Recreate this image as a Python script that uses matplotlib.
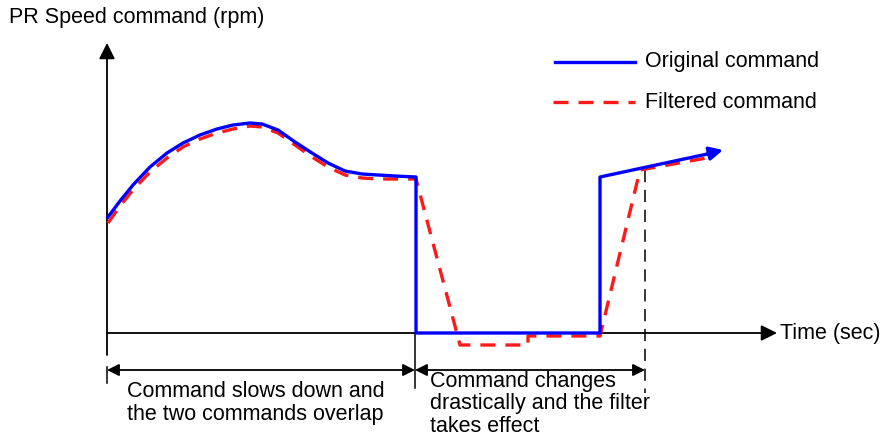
import matplotlib
matplotlib.use("Agg")
import matplotlib.pyplot as plt

plt.rcParams['font.family'] = ['Liberation Sans', 'DejaVu Sans']

# diagram units: time from the origin to the right, speed up from the time axis
orig_t = [1, 13, 26, 43, 60, 76, 93, 110, 126, 143, 155, 171, 188, 205, 221, 238, 255, 271, 288, 309,
          309, 493, 493, 605]
orig_v = [116, 132, 148, 166, 180, 190, 198, 204, 208, 210, 209, 203, 191, 180, 170, 162, 159, 158, 157, 156,
          0, 0, 156, 180]
orig_tip = (616, 183)

filt_t = [1, 13, 26, 43, 60, 76, 93, 110, 126, 143, 155, 171, 188, 205, 221, 238, 255, 271, 288, 309,
          353, 421, 421, 493, 533, 605]
filt_v = [110, 127, 143, 161, 175, 186, 194, 200, 204, 207, 206, 200, 188, 176, 166, 158, 155, 154, 154, 154,
          -12, -12, -3, -3, 163, 176]

t_end_slow = 308
t_end_filter = 538
y_axis_top = 290
x_axis_end = 670

label_y = 'PR Speed command (rpm)'
label_x = 'Time (sec)'
legend_labels = ['Original command', 'Filtered command']
span_labels = ['Command slows down and\nthe two commands overlap',
               'Command changes\ndrastically and the filter\ntakes effect']

blue = '#0000ff'
red = '#ff1a1a'
fs = 15.5

fig = plt.figure(figsize=(8.84, 4.37), dpi=100)
ax = fig.add_axes([0, 0, 1, 1])
ax.set_xlim(-107, 777)
ax.set_ylim(-104, 333)
ax.axis('off')

# axes arrows
ax.annotate('', xy=(0, y_axis_top), xytext=(0, -22),
            arrowprops=dict(arrowstyle='-|>', color='black', lw=1.3, mutation_scale=24, shrinkA=0, shrinkB=0))
ax.annotate('', xy=(x_axis_end, 0), xytext=(0, 0),
            arrowprops=dict(arrowstyle='-|>', color='black', lw=1.3, mutation_scale=24, shrinkA=0, shrinkB=0))
ax.text(-98, 316, label_y, fontsize=fs, ha='left', va='center')
ax.text(x_axis_end + 3, 0, label_x, fontsize=fs, ha='left', va='center')

# curves
ax.plot(filt_t, filt_v, color=red, lw=2.4, ls=(0, (4.5, 3)), zorder=3)
ax.plot(orig_t, orig_v, color=blue, lw=2.4, zorder=4, solid_joinstyle='round')
ax.annotate('', xy=orig_tip, xytext=(orig_t[-1] - 5, orig_v[-1] - 1),
            arrowprops=dict(arrowstyle='-|>', color=blue, lw=2.4, mutation_scale=20, shrinkA=0, shrinkB=0),
            zorder=4)

# span markers
ax.plot([t_end_slow, t_end_slow], [0, -55], color='black', lw=1.1)
ax.plot([0, 0], [-34, -50], color='black', lw=1.1)
ax.plot([t_end_filter, t_end_filter], [163, -60], color='black', lw=1.1, ls=(0, (8, 5)))
ax.annotate('', xy=(0, -37), xytext=(t_end_slow, -37),
            arrowprops=dict(arrowstyle='<|-|>', color='black', lw=1.3, mutation_scale=18, shrinkA=0, shrinkB=0))
ax.annotate('', xy=(t_end_slow, -37), xytext=(t_end_filter, -37),
            arrowprops=dict(arrowstyle='<|-|>', color='black', lw=1.3, mutation_scale=18, shrinkA=0, shrinkB=0))
ax.text(20, -70, span_labels[0], fontsize=fs, ha='left', va='center', linespacing=1.1)
ax.text(323, -71, span_labels[1], fontsize=fs, ha='left', va='center', linespacing=1.1)

# legend drawn by hand
ax.plot([448, 528], [271, 271], color=blue, lw=2.4)
ax.plot([446, 528], [231, 231], color=red, lw=2.4, ls=(0, (4.5, 3)))
ax.text(538, 271, legend_labels[0], fontsize=fs, ha='left', va='center')
ax.text(538, 231, legend_labels[1], fontsize=fs, ha='left', va='center')

fig.savefig('out.png', dpi=100)
